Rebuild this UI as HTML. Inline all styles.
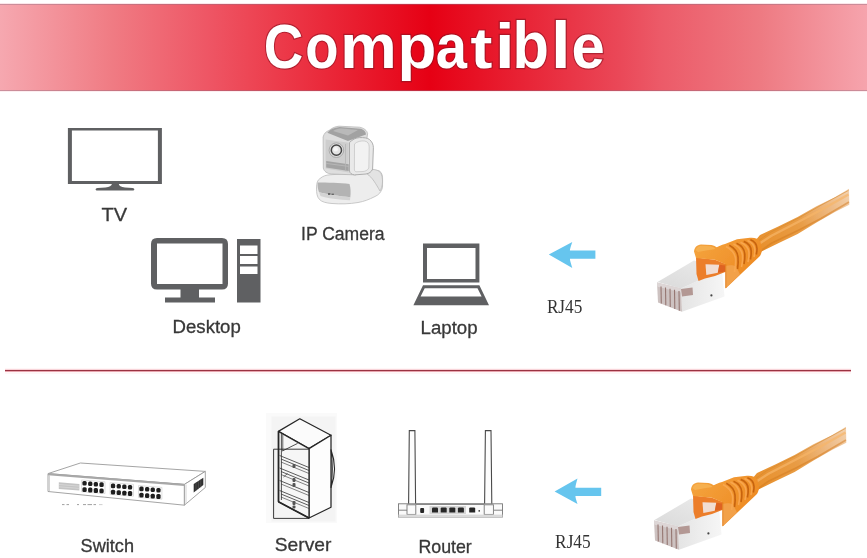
<!DOCTYPE html>
<html><head><meta charset="utf-8">
<style>
html,body{margin:0;padding:0;background:#fff;width:867px;height:558px;overflow:hidden}
svg{display:block}
text{font-family:"Liberation Sans",sans-serif}
.lbl{fill:#383838;stroke:#383838;stroke-width:0.3px}
.rj{font-family:"Liberation Serif",serif;fill:#333}
</style></head>
<body>
<svg width="867" height="558" viewBox="0 0 867 558" style="will-change:transform">
<defs>
<linearGradient id="ban" x1="0" y1="0" x2="867" y2="0" gradientUnits="userSpaceOnUse">
<stop offset="0" stop-color="#f6a8b0"/>
<stop offset="0.127" stop-color="#f07c84"/>
<stop offset="0.242" stop-color="#ee5564"/>
<stop offset="0.288" stop-color="#ed4655"/>
<stop offset="0.496" stop-color="#e60014"/>
<stop offset="0.715" stop-color="#ea4858"/>
<stop offset="0.761" stop-color="#ec5a68"/>
<stop offset="0.877" stop-color="#ee7a82"/>
<stop offset="1" stop-color="#f6a4ad"/>
</linearGradient>
<linearGradient id="cab" x1="760" y1="250" x2="850" y2="197" gradientUnits="userSpaceOnUse">
<stop offset="0" stop-color="#e8902c"/>
<stop offset="0.45" stop-color="#e89c45"/>
<stop offset="0.8" stop-color="#eebb86"/>
<stop offset="1" stop-color="#f2cfaa"/>
</linearGradient>
<linearGradient id="camtop" x1="0" y1="0" x2="0" y2="1">
<stop offset="0" stop-color="#e4e4e4"/>
<stop offset="1" stop-color="#c4c4c4"/>
</linearGradient>
<linearGradient id="cambase" x1="0" y1="0" x2="0" y2="1">
<stop offset="0" stop-color="#efefef"/>
<stop offset="0.5" stop-color="#d2d2d2"/>
<stop offset="1" stop-color="#f2f2f2"/>
</linearGradient>
<linearGradient id="plugside" x1="0" y1="0" x2="1" y2="0">
<stop offset="0" stop-color="#e4e4e4"/>
<stop offset="1" stop-color="#f6f6f6"/>
</linearGradient>
<linearGradient id="plugtop" x1="0" y1="1" x2="1" y2="0">
<stop offset="0" stop-color="#dadada"/>
<stop offset="1" stop-color="#ececec"/>
</linearGradient>
<linearGradient id="bootg" x1="700" y1="245" x2="740" y2="280" gradientUnits="userSpaceOnUse">
<stop offset="0" stop-color="#f4a23c"/>
<stop offset="1" stop-color="#ee8c25"/>
</linearGradient>
<filter id="soft" x="-5%" y="-5%" width="110%" height="110%"><feGaussianBlur stdDeviation="0.45"/></filter>
</defs>

<!-- banner -->
<rect x="0" y="4" width="867" height="87" fill="url(#ban)"/>
<rect x="0" y="3" width="867" height="1" fill="#fce6ea"/>
<rect x="0" y="4" width="867" height="1" fill="#8c6e82" opacity="0.4"/>
<rect x="0" y="90" width="867" height="1" fill="#8c6e82" opacity="0.4"/>
<rect x="0" y="91" width="867" height="1" fill="#fdeef0"/>
<g font-size="63" font-weight="bold" fill="#fff" stroke="#8c1222" stroke-width="2.4" stroke-opacity="0.6" paint-order="stroke" style="font-family:'Liberation Sans',sans-serif">
<text transform="translate(263.79,67.6) scale(0.867,1)">C</text>
<text transform="translate(305.15,67.6) scale(0.865,1)">o</text>
<text transform="translate(340.18,67.6) scale(1.008,1)">m</text>
<text transform="translate(397.38,67.6) scale(1.010,1)">p</text>
<text transform="translate(435.70,67.6) scale(0.890,1)">a</text>
<text transform="translate(470.62,67.6) scale(1.041,0.924)">t</text>
<text transform="translate(494.88,67.6) scale(1.120,1)">i</text>
<text transform="translate(512.62,67.6) scale(0.946,1.045)">b</text>
<text transform="translate(550.93,67.6) scale(1.120,1.045)">l</text>
<text transform="translate(571.48,67.6) scale(0.950,1)">e</text>
</g>

<!-- TV -->
<g fill="#5f6062">
  <path d="M67.9,127.9 H161.9 V184.1 H67.9 Z M71.9,130.6 V180.9 H157.9 V130.6 Z" fill-rule="evenodd"/>
  <path d="M111.9,184 L118.8,184 C119,186 121,187 125,187.4 L132.5,188 C135,188.4 135,190.4 132.5,190.6 L97.5,190.6 C95,190.4 95,188.4 97.5,188 L105.5,187.4 C109.5,187 111.5,186 111.9,184 Z"/>
</g>
<text class="lbl" x="101.6" y="220.8" font-size="19.2" textLength="25.6" lengthAdjust="spacingAndGlyphs">TV</text>

<!-- IP camera -->
<g stroke-linejoin="round">
  <!-- base -->
  <path d="M316.5,188 C316.5,183 317.5,180 320,178.5 C323,176 326,175 330,174.8 L366,172.2 C370,170 376,169.8 379.5,171 C382,172.5 382.8,176 382.6,181 L382.5,187.5 C381.5,192 378.5,195 375,196.5 C369,199.5 364,201.5 358,202.5 C350,204 340,204.2 332,203.5 C326,203 322,202 319.5,199.5 C317,197 316.5,193 316.5,188 Z" fill="#ededed" stroke="#bcbcbc" stroke-width="0.8"/>
  <path d="M317.6,182.6 C327,182.6 340,183 349.5,184 C350.8,188 350.8,193 350.3,197.2 C340,196.5 327,194.5 319,192.3 C317.8,189 317.4,186 317.6,182.6 Z" fill="#b3b3b3"/>
  <path d="M319,192.3 C327,194.5 340,196.5 350.3,197.2 L350,200.2 C340,200 326,198 320.5,196 Z" fill="#d3d3d3"/>
  <rect x="328" y="193.2" width="2.4" height="1.6" fill="#555"/><rect x="331.5" y="193.6" width="2.4" height="1.4" fill="#666"/>
  <path d="M367.6,169.5 C372,169 377,169.5 379.5,171.5 C382,174 382.6,178 382.5,182 C382.3,186 381.3,189 380,191 C376,184 372,177 367.6,174.5 Z" fill="#e3e3e3" stroke="#b5b5b5" stroke-width="0.7"/>
  <!-- head shell -->
  <path d="M323.1,137 C324,133.5 326,131.5 329,130.5 C332,128 335,126.5 339,126.2 L359.4,127.2 C364,128 367,130.5 367.6,133.5 L367,138 L356,174.9 L331.4,174 C327,173.5 324,171.5 323.3,168 Z" fill="#dedede" stroke="#b0b0b0" stroke-width="0.7"/>
  <!-- head top -->
  <path d="M327.3,132.8 C330,129.5 334,127.5 339.6,127 L361,128.7 C364,129.8 366,131.8 366,134.5 L347.9,141.1 Z" fill="#a2a2a2"/>
  <path d="M333,131 C336,129 339,128.6 342,128.6 L358,130 L348,135.5 Z" fill="#b9b9b9"/>
  <!-- head front -->
  <path d="M325.6,139.4 L348.7,142.7 L348.7,172.4 L325.6,168.4 Z" fill="#cecece"/>
  <path d="M326.2,160.9 L348.7,164.2 L348.7,171 L326.2,167.4 Z" fill="#a3a3a3"/>
  <path d="M326.2,163.4 L348.7,166.4" stroke="#bfbfbf" stroke-width="0.7"/>
  <line x1="345.5" y1="144" x2="345.5" y2="171" stroke="#b5b5b5" stroke-width="0.8"/>
  <!-- yoke -->
  <path d="M349.5,142.7 C352,139.5 356,137.8 359.4,137.6 C364,137.4 367.5,138 369.3,139.4 C372,141.5 373.4,144.5 373.4,147.7 L372.6,169.1 C371.5,172 369,173.5 366,174 L354.5,174.9 C351.5,174.5 349.8,173 349.5,171 Z" fill="#e9e9e9" stroke="#a6a6a6" stroke-width="0.9"/>
  <path d="M354.5,144 C357,141.5 361,140.6 364.5,141 C367.5,141.5 369.2,143.5 369.2,147 L368.8,168 C367.5,170.5 365,171.5 362,171.6 L356,171.8 C354.8,171.5 354.4,170.5 354.4,169 Z" fill="#f2f2f2" stroke="#c2c2c2" stroke-width="0.7"/>
  <!-- lens -->
  <circle cx="336.4" cy="150.2" r="7.3" fill="#dcdcdc" stroke="#9a9a9a" stroke-width="0.7"/>
  <circle cx="336.4" cy="150.2" r="5.1" fill="#e4e4e4" stroke="#454545" stroke-width="1.5"/>
  <circle cx="335.6" cy="149.3" r="2.3" fill="#f6f6f6"/>
</g>
<text class="lbl" x="301" y="240.3" font-size="18.8" textLength="83.6" lengthAdjust="spacingAndGlyphs">IP Camera</text>

<!-- Desktop -->
<g fill="#5f6062">
  <path d="M157,238 H222 Q228,238 228,244 V283.5 Q228,289.5 222,289.5 H157 Q151,289.5 151,283.5 V244 Q151,238 157,238 Z M157,243.5 V284 H222.5 V243.5 Z" fill-rule="evenodd"/>
  <rect x="180.5" y="289" width="18.5" height="9"/>
  <rect x="165" y="297.5" width="50" height="5"/>
  <path d="M237,239 H260.5 V302.5 H237 Z M240,245.5 V254 H257.5 V245.5 Z M240,256 V264 H257.5 V256 Z M240,266.5 V274 H257.5 V266.5 Z" fill-rule="evenodd"/>
</g>
<text class="lbl" x="172.6" y="332.9" font-size="18" textLength="68.2" lengthAdjust="spacingAndGlyphs">Desktop</text>

<!-- Laptop -->
<g fill="#5f6062">
  <path d="M423,243.4 H479.4 V282.6 H423 Z M427,248 V279 H475.5 V248 Z" fill-rule="evenodd"/>
  <path d="M423,285.3 H479.4 L489,305.3 H413.4 Z M424.7,288.2 L420.6,296.4 H481.6 L477.5,288.2 Z" fill-rule="evenodd"/>
</g>
<text class="lbl" x="420.6" y="333.8" font-size="18.5" textLength="57" lengthAdjust="spacingAndGlyphs">Laptop</text>

<!-- arrow 1 -->
<path d="M548.8,254.6 L572.3,242 Q569.5,250 570,250.5 L595.4,250.5 L595.4,258.7 L570,258.7 Q569.5,259.5 572.3,268 Z" fill="#66c5ee"/>
<text class="rj" x="546.9" y="312.5" font-size="18.6" textLength="35.4" lengthAdjust="spacingAndGlyphs">RJ45</text>

<!-- cable 1 -->
<g filter="url(#soft)">
  <!-- cable strand -->
  <path d="M755,241 L760,235 L778.8,226.2 L797.6,216.9 L816.5,206.3 L835.3,196.9 L849,188.8 L849.3,204.8 L835.3,211.8 L816.5,222.6 L797.6,234 L778.8,243 L759.4,252.5 L758,256 Z" fill="url(#cab)"/>
  <path d="M758,244.5 L771,236 L800,221 L821,210 L848.5,194.5" fill="none" stroke="#f6b568" stroke-width="2.4" opacity="0.7"/>
  <path d="M760,251.5 L771,243.5 L800,229.5 L821,218.5 L849,202" fill="none" stroke="#d27a1e" stroke-width="1.6" opacity="0.5"/>
  <path d="M757,241.8 L770,232.5 L800,217.2 L820,205.8 L848.5,190.4" fill="none" stroke="#d4862c" stroke-width="1" opacity="0.55"/>
  <!-- plug right side (silver) -->
  <polygon points="681,288.4 722,270 724.5,296.6 682,311.7" fill="url(#plugside)"/>
  <!-- plug top face -->
  <polygon points="657.5,282 694,260.5 722,270 681,288.4" fill="url(#plugtop)"/>
  <!-- plug front face (contacts) -->
  <polygon points="657,282.5 681,288.6 682,311.7 658,302.5" fill="#cdc2c1"/>
  <polygon points="657,282.5 681,288.6 681,292.5 657,286.5" fill="#ddd6d6"/>
  <g stroke="#967772" stroke-width="1.1">
    <line x1="661" y1="286.5" x2="661.3" y2="303.5"/>
    <line x1="665.5" y1="287.6" x2="665.8" y2="305.3"/>
    <line x1="670" y1="288.7" x2="670.3" y2="307.1"/>
    <line x1="674.5" y1="289.8" x2="674.8" y2="308.9"/>
    <line x1="679" y1="290.9" x2="679.3" y2="310.7"/>
  </g>
  <polygon points="681,289 692.5,287.5 693,295 682,296.5" fill="#b39894"/>
  <circle cx="711.4" cy="295.4" r="1.1" fill="#444"/>
  <!-- latch -->
  <path d="M696,257.5 L715,259.7 L726.5,264.2 L726.5,271.5 L715,276 L705,278.5 L698.5,281 L696.5,274 Z" fill="#ec7e2c"/>
  <polygon points="705.5,264.2 719.3,264.8 717.8,272.8 706.3,275" fill="#f1ddd3"/>
  <polygon points="719.3,264.8 725.6,265.5 725.6,271.5 717.8,272.8" fill="#d9581c" opacity="0.7"/>
  <!-- boot -->
  <path d="M694,251.5 C694.5,247.5 697,245 701,244.6 L711.5,245.1 C714,245.6 715.5,246.8 716.9,247.3 C718.5,246.5 721,245 725,244 L737,239.3 L750,237.7 C755,237.3 758.5,238.8 760.5,242 L762,249.5 C761.5,253.5 760.5,255.5 759.2,256.8 L742,273 L725.6,288.4 L725.6,264.2 L715,259.7 L696,258 Z" fill="url(#bootg)"/>
  <path d="M725.6,266 C729,265 733,265 736,266.5 L740,274.5 L725.6,288 Z" fill="#f2a553" opacity="0.8"/>
  <path d="M695.5,250 C697,247 699,246 702,245.8 L710.5,246.2 C713,246.6 714.5,247.5 715.5,249 L706,250.5 L698,252 Z" fill="#f7b658" opacity="0.75"/>
  <g stroke="#f9a852" stroke-width="1.6" fill="none" opacity="0.9">
    <path d="M726,246.5 C731,249 734.5,253 735.5,258 C736,262 735.5,266 734.5,272"/>
    <path d="M733.5,244 C739,246.5 742,250 742.5,255.5 C743,259 742.5,263 741.5,267"/>
    <path d="M740.5,242.2 C746,244.5 748.5,247.5 749,252.5 C749.3,256 748.8,259 748,262"/>
    <path d="M747.5,240.4 C752.5,242.5 754.5,245.5 754.8,249.5 C755,252 754.6,254.5 754,257"/>
  </g>
  <g stroke="#c4600e" stroke-width="1.7" fill="none" opacity="0.9">
    <path d="M729.3,245.3 C734.5,248 737.4,252 738,257 C738.4,261 738.2,264.5 737.5,269"/>
    <path d="M736.5,243.2 C741.8,245.5 744.4,249 744.8,254 C745,257.5 744.8,260.5 744,264"/>
    <path d="M743.7,241.4 C748.8,243.5 751,246.5 751.2,251 C751.4,254 751,256.5 750.4,259.5"/>
    <path d="M750.4,239.8 C755,241.6 756.8,244.5 757,248.5 C757.1,250.5 756.8,252.5 756.3,254.5"/>
  </g>
  <path d="M725.8,264.2 L725.8,288" stroke="#e08020" stroke-width="0.8"/>
</g>


<!-- divider -->
<rect x="5" y="368" width="846" height="6" fill="#fff6f7"/>
<rect x="5" y="369" width="846" height="3" fill="#f8d4d9"/>
<rect x="5" y="370" width="846" height="1" fill="#9a3242"/>
<rect x="5" y="371" width="846" height="1" fill="#e7a5ae"/>

<!-- Switch -->
<g stroke="#9a9a9a" stroke-width="0.9" fill="#fff" stroke-linejoin="round">
  <polygon points="48,473.6 80.4,463 205.3,471.4 184.4,484.4"/>
  <polygon points="48,473.6 184.4,484.4 184.4,505.2 48,491.5"/>
  <polygon points="184.4,484.4 205.3,471.4 205.3,487.5 184.4,505.2"/>
</g>
<line x1="48" y1="474.3" x2="184.4" y2="485.1" stroke="#a8a8a8" stroke-width="1.8"/>
<line x1="49.5" y1="475" x2="49.5" y2="491" stroke="#c8c8c8" stroke-width="0.8"/>
<line x1="186" y1="484.5" x2="186" y2="504" stroke="#c8c8c8" stroke-width="0.8"/>
<polygon points="58.8,482.3 79.4,483.9 79.4,490.6 58.8,489" fill="#c4c4c4"/>
<g stroke="#e0e0e0" stroke-width="0.6"><line x1="59" y1="484.5" x2="79.4" y2="486.1"/><line x1="59" y1="486.8" x2="79.4" y2="488.4"/></g>
<g fill="none" stroke="#c9c9c9" stroke-width="0.6">
  <polygon points="81.6,480 105,481.8 105,493.6 81.6,491.8"/>
  <polygon points="110.1,482.6 133.5,484.4 133.5,496.2 110.1,494.4"/>
  <polygon points="138.5,485.6 161.9,487.4 161.9,499.2 138.5,497.4"/>
</g>
<g fill="#1e1e1e">
  <rect x="82.4" y="481.0" width="4.3" height="4.6" rx="1.5"/>
  <rect x="82.4" y="487.2" width="4.3" height="4.8" rx="1.5"/>
  <rect x="88.1" y="481.4" width="4.3" height="4.6" rx="1.5"/>
  <rect x="88.1" y="487.6" width="4.3" height="4.8" rx="1.5"/>
  <rect x="93.7" y="481.9" width="4.3" height="4.6" rx="1.5"/>
  <rect x="93.7" y="488.1" width="4.3" height="4.8" rx="1.5"/>
  <rect x="99.4" y="482.3" width="4.3" height="4.6" rx="1.5"/>
  <rect x="99.4" y="488.5" width="4.3" height="4.8" rx="1.5"/>
  <rect x="110.9" y="483.6" width="4.3" height="4.6" rx="1.5"/>
  <rect x="110.9" y="489.8" width="4.3" height="4.8" rx="1.5"/>
  <rect x="116.6" y="484.0" width="4.3" height="4.6" rx="1.5"/>
  <rect x="116.6" y="490.2" width="4.3" height="4.8" rx="1.5"/>
  <rect x="122.2" y="484.5" width="4.3" height="4.6" rx="1.5"/>
  <rect x="122.2" y="490.7" width="4.3" height="4.8" rx="1.5"/>
  <rect x="127.9" y="484.9" width="4.3" height="4.6" rx="1.5"/>
  <rect x="127.9" y="491.1" width="4.3" height="4.8" rx="1.5"/>
  <rect x="139.3" y="486.6" width="4.3" height="4.6" rx="1.5"/>
  <rect x="139.3" y="492.8" width="4.3" height="4.8" rx="1.5"/>
  <rect x="145.0" y="487.0" width="4.3" height="4.6" rx="1.5"/>
  <rect x="145.0" y="493.2" width="4.3" height="4.8" rx="1.5"/>
  <rect x="150.6" y="487.5" width="4.3" height="4.6" rx="1.5"/>
  <rect x="150.6" y="493.7" width="4.3" height="4.8" rx="1.5"/>
  <rect x="156.3" y="487.9" width="4.3" height="4.6" rx="1.5"/>
  <rect x="156.3" y="494.1" width="4.3" height="4.8" rx="1.5"/>
</g>
<polygon points="193.7,484.1 203.3,477.7 203.3,485 193.7,492.4" fill="#2e2e2e"/>
<g stroke="#666" stroke-width="0.5"><line x1="196" y1="482.6" x2="196" y2="490.8"/><line x1="198.4" y1="481" x2="198.4" y2="489.2"/><line x1="200.8" y1="479.4" x2="200.8" y2="487.4"/></g>
<g stroke="#777" stroke-width="0.7">
  <line x1="62" y1="504.6" x2="64.5" y2="504.6"/><line x1="66.5" y1="504.6" x2="69" y2="504.6"/>
  <line x1="77" y1="504.6" x2="79" y2="504.6"/><line x1="83" y1="504.6" x2="86" y2="504.6"/><line x1="87.5" y1="504.6" x2="92" y2="504.6"/><line x1="93.5" y1="504.6" x2="96" y2="504.6"/>
  <line x1="99" y1="504.6" x2="102.5" y2="504.6" stroke="#bbb"/>
</g>
<text class="lbl" x="80.6" y="551.9" font-size="18" textLength="53.4" lengthAdjust="spacingAndGlyphs">Switch</text>

<!-- Server -->
<rect x="266" y="413" width="71" height="110" fill="#fafafa"/>
<rect x="271.5" y="416.5" width="64" height="105" fill="#f4f4f4"/>
<g stroke="#262626" stroke-width="1.25" fill="none" stroke-linejoin="round">
  <polygon points="278.4,431.4 299.8,418.8 331,435.2 309,448.6" fill="#fbfbfb"/>
  <polygon points="309,448.6 331,435.2 331,507.3 309,518" fill="#fdfdfd"/>
  <polygon points="278.4,431.4 309,448.6 309,518 278.4,501.7" fill="#f6f6f6"/>
  <line x1="278.6" y1="431.6" x2="278.6" y2="501.7" stroke-width="1.6"/>
  <line x1="278.4" y1="501.7" x2="309" y2="518" stroke-width="1.6"/>
  <line x1="281.4" y1="433.5" x2="281.4" y2="500" stroke-width="0.8"/>
  <line x1="282.8" y1="434.3" x2="282.8" y2="451" stroke-width="0.7"/>
  <line x1="282.3" y1="451" x2="297.6" y2="443.4" stroke-width="0.8"/>
  <polyline points="273.6,518.4 273.6,449.2 309,449.2" stroke-width="0.9"/>
  <line x1="273.6" y1="518.4" x2="309" y2="518.4" stroke-width="0.9"/>
  <path d="M331,449.8 Q338,468.6 331,487.5 Q333.5,468.6 331,449.8 Z" stroke-width="1.1" fill="#fff"/>
</g>
<g stroke="#333" stroke-width="0.8" fill="none">
  <line x1="279.6" y1="455.5" x2="309" y2="467.5"/>
  <line x1="281" y1="459" x2="309" y2="470.5"/>
  <line x1="281" y1="462" x2="309" y2="473.5" stroke-width="0.6"/>
  <line x1="279.6" y1="468" x2="309" y2="480"/>
  <line x1="281" y1="471.5" x2="309" y2="483"/>
  <line x1="281" y1="474.5" x2="309" y2="486" stroke-width="0.6"/>
  <line x1="279.6" y1="480.5" x2="309" y2="492.5"/>
  <line x1="281" y1="484" x2="309" y2="495.5" stroke-width="0.6"/>
  <line x1="279.6" y1="490.5" x2="309" y2="502.5"/>
  <line x1="281" y1="494" x2="309" y2="505.5"/>
  <line x1="281" y1="497" x2="309" y2="508.5" stroke-width="0.6"/>
  <line x1="283.5" y1="477" x2="287.5" y2="473.5" stroke-width="0.7"/>
</g>
<g fill="#555">
  <rect x="292.5" y="464" width="3" height="4" rx="1"/>
  <rect x="292.5" y="478" width="3" height="4" rx="1"/>
  <rect x="292.5" y="483" width="3" height="4" rx="1"/>
  <rect x="292.5" y="501" width="3" height="4" rx="1"/>
  <rect x="292.5" y="505.5" width="3" height="3" rx="1"/>
</g>
<text class="lbl" x="274.8" y="551" font-size="19" textLength="56.6" lengthAdjust="spacingAndGlyphs">Server</text>

<!-- Router -->
<g stroke="#4a4a4a" stroke-width="1.1" fill="#fdfdfd">
  <path d="M408.6,504 L409.3,430.6 H414.9 L415.6,504"/>
  <path d="M484.6,504 L485.4,430.6 H491 L491.8,504"/>
</g>
<g stroke="#777" stroke-width="0.9" fill="#fafafa">
  <rect x="398.5" y="503.8" width="104" height="13.2"/>
  <line x1="398.5" y1="510.2" x2="407" y2="510.2"/>
  <line x1="494" y1="510.2" x2="502.5" y2="510.2"/>
  <rect x="407" y="504.8" width="8.8" height="9.6" fill="#fbfbfb"/>
  <rect x="484.2" y="504.8" width="9.2" height="9.6" fill="#fbfbfb"/>
</g>
<rect x="415.8" y="503.4" width="68.4" height="1.6" fill="#888"/>
<rect x="398.5" y="514.6" width="104" height="2.6" fill="#dadada"/>
<rect x="429.5" y="506" width="36.5" height="8" fill="#d6d6d6"/>
<g fill="#262626">
  <rect x="420.2" y="508" width="3.9" height="5" rx="1"/>
  <path d="M432,508.6 Q432,507.4 433.2,507.4 H436.8 Q438,507.4 438,508.6 V512.6 H432 Z"/>
  <path d="M440.7,508.6 Q440.7,507.4 441.9,507.4 H445.5 Q446.7,507.4 446.7,508.6 V512.6 H440.7 Z"/>
  <path d="M449.3,508.6 Q449.3,507.4 450.5,507.4 H454.1 Q455.3,507.4 455.3,508.6 V512.6 H449.3 Z"/>
  <path d="M457.9,508.6 Q457.9,507.4 459.1,507.4 H462.7 Q463.9,507.4 463.9,508.6 V512.6 H457.9 Z"/>
  <path d="M469.2,508.6 Q469.2,507.4 470.4,507.4 H474 Q475.2,507.4 475.2,508.6 V512.6 H469.2 Z"/>
  <circle cx="479.2" cy="510.9" r="0.8"/>
</g>
<text class="lbl" x="418.4" y="553.2" font-size="17.8" textLength="53.4" lengthAdjust="spacingAndGlyphs">Router</text>

<!-- arrow 2 -->
<path d="M554.6,491.6 L577.5,478.5 Q575,487 575.5,487.8 L601.2,487.8 L601.2,496 L575.5,496 Q575,496.5 577.5,504 Z" fill="#66c5ee"/>
<text class="rj" x="555.1" y="548.3" font-size="18.7" textLength="35.6" lengthAdjust="spacingAndGlyphs">RJ45</text>

<!-- cable 2 -->
<g transform="translate(-3,238)"><g filter="url(#soft)">
  <!-- cable strand -->
  <path d="M755,241 L760,235 L778.8,226.2 L797.6,216.9 L816.5,206.3 L835.3,196.9 L849,188.8 L849.3,204.8 L835.3,211.8 L816.5,222.6 L797.6,234 L778.8,243 L759.4,252.5 L758,256 Z" fill="url(#cab)"/>
  <path d="M758,244.5 L771,236 L800,221 L821,210 L848.5,194.5" fill="none" stroke="#f6b568" stroke-width="2.4" opacity="0.7"/>
  <path d="M760,251.5 L771,243.5 L800,229.5 L821,218.5 L849,202" fill="none" stroke="#d27a1e" stroke-width="1.6" opacity="0.5"/>
  <path d="M757,241.8 L770,232.5 L800,217.2 L820,205.8 L848.5,190.4" fill="none" stroke="#d4862c" stroke-width="1" opacity="0.55"/>
  <!-- plug right side (silver) -->
  <polygon points="681,288.4 722,270 724.5,296.6 682,311.7" fill="url(#plugside)"/>
  <!-- plug top face -->
  <polygon points="657.5,282 694,260.5 722,270 681,288.4" fill="url(#plugtop)"/>
  <!-- plug front face (contacts) -->
  <polygon points="657,282.5 681,288.6 682,311.7 658,302.5" fill="#cdc2c1"/>
  <polygon points="657,282.5 681,288.6 681,292.5 657,286.5" fill="#ddd6d6"/>
  <g stroke="#967772" stroke-width="1.1">
    <line x1="661" y1="286.5" x2="661.3" y2="303.5"/>
    <line x1="665.5" y1="287.6" x2="665.8" y2="305.3"/>
    <line x1="670" y1="288.7" x2="670.3" y2="307.1"/>
    <line x1="674.5" y1="289.8" x2="674.8" y2="308.9"/>
    <line x1="679" y1="290.9" x2="679.3" y2="310.7"/>
  </g>
  <polygon points="681,289 692.5,287.5 693,295 682,296.5" fill="#b39894"/>
  <circle cx="711.4" cy="295.4" r="1.1" fill="#444"/>
  <!-- latch -->
  <path d="M696,257.5 L715,259.7 L726.5,264.2 L726.5,271.5 L715,276 L705,278.5 L698.5,281 L696.5,274 Z" fill="#ec7e2c"/>
  <polygon points="705.5,264.2 719.3,264.8 717.8,272.8 706.3,275" fill="#f1ddd3"/>
  <polygon points="719.3,264.8 725.6,265.5 725.6,271.5 717.8,272.8" fill="#d9581c" opacity="0.7"/>
  <!-- boot -->
  <path d="M694,251.5 C694.5,247.5 697,245 701,244.6 L711.5,245.1 C714,245.6 715.5,246.8 716.9,247.3 C718.5,246.5 721,245 725,244 L737,239.3 L750,237.7 C755,237.3 758.5,238.8 760.5,242 L762,249.5 C761.5,253.5 760.5,255.5 759.2,256.8 L742,273 L725.6,288.4 L725.6,264.2 L715,259.7 L696,258 Z" fill="url(#bootg)"/>
  <path d="M725.6,266 C729,265 733,265 736,266.5 L740,274.5 L725.6,288 Z" fill="#f2a553" opacity="0.8"/>
  <path d="M695.5,250 C697,247 699,246 702,245.8 L710.5,246.2 C713,246.6 714.5,247.5 715.5,249 L706,250.5 L698,252 Z" fill="#f7b658" opacity="0.75"/>
  <g stroke="#f9a852" stroke-width="1.6" fill="none" opacity="0.9">
    <path d="M726,246.5 C731,249 734.5,253 735.5,258 C736,262 735.5,266 734.5,272"/>
    <path d="M733.5,244 C739,246.5 742,250 742.5,255.5 C743,259 742.5,263 741.5,267"/>
    <path d="M740.5,242.2 C746,244.5 748.5,247.5 749,252.5 C749.3,256 748.8,259 748,262"/>
    <path d="M747.5,240.4 C752.5,242.5 754.5,245.5 754.8,249.5 C755,252 754.6,254.5 754,257"/>
  </g>
  <g stroke="#c4600e" stroke-width="1.7" fill="none" opacity="0.9">
    <path d="M729.3,245.3 C734.5,248 737.4,252 738,257 C738.4,261 738.2,264.5 737.5,269"/>
    <path d="M736.5,243.2 C741.8,245.5 744.4,249 744.8,254 C745,257.5 744.8,260.5 744,264"/>
    <path d="M743.7,241.4 C748.8,243.5 751,246.5 751.2,251 C751.4,254 751,256.5 750.4,259.5"/>
    <path d="M750.4,239.8 C755,241.6 756.8,244.5 757,248.5 C757.1,250.5 756.8,252.5 756.3,254.5"/>
  </g>
  <path d="M725.8,264.2 L725.8,288" stroke="#e08020" stroke-width="0.8"/>
</g>
</g>
</svg>
</body></html>
